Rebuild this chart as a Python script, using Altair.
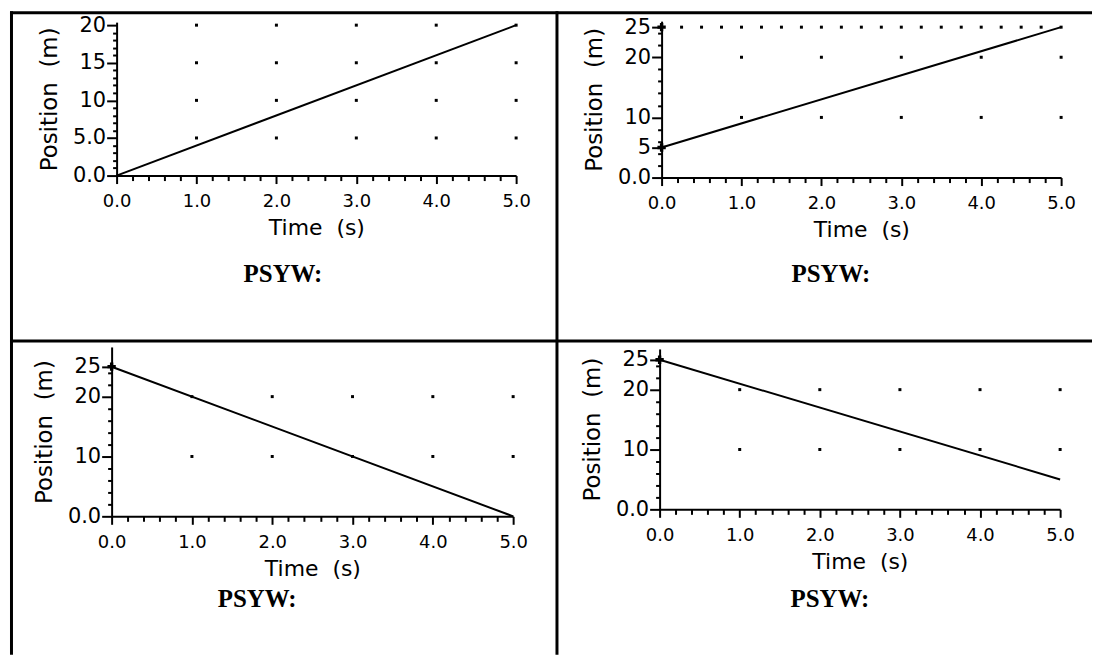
import altair as alt
import pandas as pd

# ---------------- data ----------------
time_s = [0.0, 5.0]
pos_a = [0.0, 20.0]
pos_b = [5.0, 25.0]
pos_c = [25.0, 0.0]
pos_d = [25.0, 5.0]

x_ticks = [0.0, 0.2, 0.4, 0.6, 0.8, 1.0, 1.2, 1.4, 1.6, 1.8, 2.0, 2.2, 2.4, 2.6, 2.8,
           3.0, 3.2, 3.4, 3.6, 3.8, 4.0, 4.2, 4.4, 4.6, 4.8, 5.0]

y_ticks_a = [0, 1, 2, 3, 4, 5, 6, 7, 8, 9, 10, 11, 12, 13, 14, 15, 16, 17, 18, 19, 20]
y_major_a = [0, 5, 10, 15, 20]
y_labels_a = ["0.0", "5.0", "10", "15", "20"]

y_ticks_b = [0, 2, 4, 5, 6, 8, 10, 12, 14, 16, 18, 20, 22, 24, 25]
y_major_b = [0, 5, 10, 20, 25]
y_labels_b = ["0.0", "5", "10", "20", "25"]

y_ticks_cd = [0, 2, 4, 6, 8, 10, 12, 14, 16, 18, 20, 22, 24, 25]
y_major_cd = [0, 10, 20, 25]
y_labels_cd = ["0.0", "10", "20", "25"]

grid_x = [1, 2, 3, 4, 5]
grid_rows_a = [5, 10, 15, 20]
grid_rows_bcd = [10, 20]
dense_row_x = [0.25, 0.5, 0.75, 1.0, 1.25, 1.5, 1.75, 2.0, 2.25, 2.5, 2.75, 3.0,
               3.25, 3.5, 3.75, 4.0, 4.25, 4.5, 4.75, 5.0]
dense_row_y = 25

marks_b = [(0, 5), (0, 25)]
marks_cd = [(0, 25)]

X_TITLE = "Time\u00a0 (s)"
Y_TITLE = "Position\u00a0 (m)"
NOTE = "PSYW:"

FONT = "DejaVu Sans"


def label_expr(values, texts):
    expr = "''"
    for v, t in reversed(list(zip(values, texts))):
        expr = f"datum.value == {v} ? '{t}' : ({expr})"
    return expr


def cell(W, H, xr, yr, ydom, pos, y_ticks, y_major, y_labels, rows, dense,
         markers, note_xy, borders):
    xs = alt.Scale(domain=[0, 5], range=xr, nice=False, zero=False)
    ys = alt.Scale(domain=[0, ydom], range=yr, nice=False, zero=False)
    major_list = "[" + ",".join(str(v) for v in y_major) + "]"
    xaxis = alt.Axis(
        values=x_ticks, orient="bottom", offset=-(H - yr[0]), title=X_TITLE,
        labelExpr="datum.value % 1 == 0 ? format(datum.value, '.1f') : ''",
        tickSize={"condition": {"test": "datum.value % 1 == 0", "value": 8}, "value": 5},
        tickWidth=2, labelFontSize=18, labelPadding=9, labelOverlap=False,
        labelFlush=False, titleFontSize=22, titlePadding=7, grid=False,
    )
    yaxis = alt.Axis(
        values=y_ticks, orient="left", offset=-xr[0], title=Y_TITLE,
        labelExpr=label_expr(y_major, y_labels),
        tickSize={"condition": {"test": f"indexof({major_list}, datum.value) >= 0", "value": 10},
                  "value": 4},
        tickWidth=2, labelFontSize=21, labelPadding=1, labelOverlap=False,
        labelFlush=False, titleFontSize=23, titlePadding=11, grid=False,
    )
    X = lambda f: alt.X(f, type="quantitative", scale=xs, axis=xaxis)
    Y = lambda f: alt.Y(f, type="quantitative", scale=ys, axis=yaxis)

    line_df = pd.DataFrame({"t": time_s, "p": pos})
    dot_t, dot_p = [], []
    for r in rows:
        for gx in grid_x:
            dot_t.append(gx)
            dot_p.append(r)
    if dense:
        for gx in dense_row_x:
            dot_t.append(gx)
            dot_p.append(dense_row_y)
    dots_df = pd.DataFrame({"t": dot_t, "p": dot_p})

    layers = [
        alt.Chart(dots_df).mark_square(size=9, color="black", opacity=1).encode(x=X("t"), y=Y("p")),
        alt.Chart(line_df).mark_line(color="black", strokeWidth=2).encode(x=X("t"), y=Y("p")),
    ]
    if markers:
        mk_df = pd.DataFrame({"t": [m[0] for m in markers], "p": [m[1] for m in markers]})
        layers.append(
            alt.Chart(mk_df).mark_point(shape="cross", filled=True, size=70, color="black", opacity=1)
            .encode(x=X("t"), y=Y("p"))
        )
    one = pd.DataFrame({"s": [NOTE]})
    layers.append(
        alt.Chart(one).mark_text(font="Liberation Serif", fontWeight="bold", fontSize=25,
                                 align="center", baseline="middle", color="black")
        .encode(x=alt.value(note_xy[0]), y=alt.value(note_xy[1]), text="s:N")
    )
    for (bx1, by1, bx2, by2) in borders:
        layers.append(
            alt.Chart(one).mark_rule(color="black", strokeWidth=3)
            .encode(x=alt.value(bx1), y=alt.value(by1), x2=alt.value(bx2), y2=alt.value(by2))
        )
    return alt.layer(*layers).properties(width=W, height=H)


W1, W2 = 549, 537
H1, H2 = 331, 315

c1 = cell(W1, H1, [107, 508], [165, 11], 20.4, pos_a, y_ticks_a, y_major_a, y_labels_a,
          grid_rows_a, False, None, (274, 264),
          [(0, 1.5, W1, 1.5), (1.5, 0, 1.5, H1)])
c2 = cell(W2, H1, [105, 506], [167, 10], 26.0, pos_b, y_ticks_b, y_major_b, y_labels_b,
          grid_rows_bcd, True, marks_b, (275, 264),
          [(0, 1.5, W2, 1.5), (0, 0, 0, H1)])
c3 = cell(W1, H2, [102, 505], [176, 6], 28.3, pos_c, y_ticks_cd, y_major_cd, y_labels_cd,
          grid_rows_bcd, False, marks_cd, (248, 259),
          [(0, 0, W1, 0), (1.5, 0, 1.5, H2)])
c4 = cell(W2, H2, [103, 505], [169, 8], 26.8, pos_d, y_ticks_cd, y_major_cd, y_labels_cd,
          grid_rows_bcd, False, marks_cd, (274, 259),
          [(0, 0, W2, 0), (0, 0, 0, H2)])

chart = alt.concat(
    c1, c2, c3, c4, columns=2, spacing=0, bounds="flush",
).properties(padding=0, background="white").configure_view(stroke=None).configure_axis(
    labelColor="black", titleColor="black", domainColor="black", tickColor="black",
    labelFont=FONT, titleFont=FONT, titleFontWeight="normal",
    domainWidth=2,
)

chart.save("out.html", embed_options={"renderer": "svg", "actions": False})
